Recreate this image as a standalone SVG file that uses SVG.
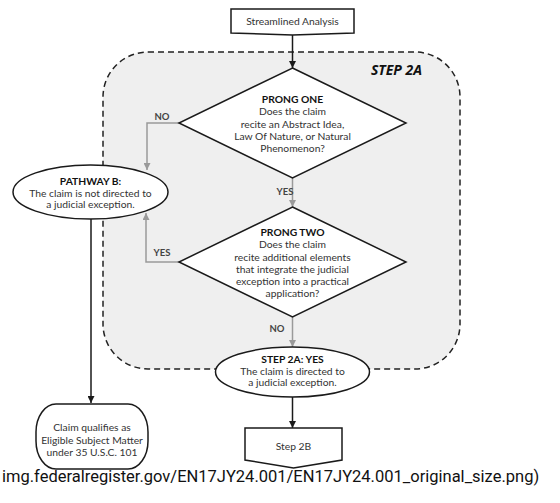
<svg xmlns="http://www.w3.org/2000/svg" width="560" height="503" viewBox="0 0 560 503">
<defs>
<marker id="ab" viewBox="0 0 10 10" refX="10" refY="5" markerWidth="7" markerHeight="7" markerUnits="userSpaceOnUse" orient="auto"><path d="M0,0 L10,5 L0,10 z" fill="#1a1a1a"/></marker>
<marker id="ag" viewBox="0 0 10 10" refX="10" refY="5" markerWidth="7" markerHeight="7" markerUnits="userSpaceOnUse" orient="auto"><path d="M0,0 L10,5 L0,10 z" fill="#9a9a9a"/></marker>
</defs>
<style>
text{font-family:Lato,"Open Sans","Liberation Sans",sans-serif;fill:#333;}
.t{font-size:10.3px;text-anchor:middle;}
.b{font-weight:bold;fill:#111;}
.lbl{font-size:9.5px;font-weight:bold;fill:#444;text-anchor:middle;}
.shape{fill:#fff;stroke:#1a1a1a;stroke-width:1.5;}
.cb{fill:none;stroke:#1a1a1a;stroke-width:1.5;}
.cg{fill:none;stroke:#9a9a9a;stroke-width:1.5;}
</style>
<rect width="560" height="503" fill="#fff"/>
<g id="step2a-region">
<rect x="103" y="52" width="357" height="317" rx="45" ry="45" fill="#efefef" stroke="#222" stroke-width="1.5" stroke-dasharray="6,4"/>
<text x="422" y="75" style="font-family:'Open Sans','Noto Sans',sans-serif;font-size:14px;font-weight:bold;font-style:italic;fill:#111;text-anchor:end">STEP 2A</text>
</g>
<g id="connectors">
<line class="cb" x1="292.5" y1="35" x2="292.5" y2="68" marker-end="url(#ab)"/>
<polyline class="cg" points="179,123 147,123 147,170" marker-end="url(#ag)"/>
<line class="cg" x1="292.5" y1="178" x2="292.5" y2="207" marker-end="url(#ag)"/>
<polyline class="cg" points="179,262 146,262 146,213" marker-end="url(#ag)"/>
<line class="cg" x1="292.5" y1="317" x2="292.5" y2="347" marker-end="url(#ag)"/>
<line class="cb" x1="91" y1="219" x2="91" y2="403" marker-end="url(#ab)"/>
<line class="cb" x1="292.5" y1="397" x2="292.5" y2="428" marker-end="url(#ab)"/>
<text class="lbl" x="162" y="120">NO</text>
<text class="lbl" x="162" y="256">YES</text>
<text class="lbl" x="285" y="195">YES</text>
<text class="lbl" x="277" y="332">NO</text>
</g>
<g id="streamlined">
<path class="shape" d="M231,9 L354,9 L354,33 L292.5,35 L231,33 Z"/>
<text class="t" x="292.5" y="25">Streamlined Analysis</text>
</g>
<g id="prong-one">
<path class="shape" d="M292.5,68 L406,123 L292.5,178 L179,123 Z"/>
<text class="t b" x="292.5" y="103">PRONG ONE</text>
<text class="t" x="292.5" y="115">Does the claim</text>
<text class="t" x="292.5" y="127.5">recite an Abstract Idea,</text>
<text class="t" x="292.5" y="140">Law Of Nature, or Natural</text>
<text class="t" x="292.5" y="152">Phenomenon?</text>
</g>
<g id="pathway-b">
<ellipse class="shape" cx="90.5" cy="192" rx="77.5" ry="27"/>
<text class="t b" x="90.5" y="185">PATHWAY B:</text>
<text class="t" x="90.5" y="196.5">The claim is not directed to</text>
<text class="t" x="90.5" y="208">a judicial exception.</text>
</g>
<g id="prong-two">
<path class="shape" d="M292.5,207 L406,262 L292.5,317 L179,262 Z"/>
<text class="t b" x="292.5" y="236">PRONG TWO</text>
<text class="t" x="292.5" y="248">Does the claim</text>
<text class="t" x="292.5" y="260.5">recite additional elements</text>
<text class="t" x="292.5" y="273">that integrate the judicial</text>
<text class="t" x="292.5" y="285">exception into a practical</text>
<text class="t" x="292.5" y="297">application?</text>
</g>
<g id="step2a-yes">
<ellipse class="shape" cx="292.5" cy="372" rx="77" ry="25"/>
<text class="t b" x="292.5" y="363">STEP 2A: YES</text>
<text class="t" x="292.5" y="374.5">The claim is directed to</text>
<text class="t" x="292.5" y="386">a judicial exception.</text>
</g>
<g id="eligible">
<rect class="shape" x="36" y="404" width="112" height="65" rx="20" ry="28"/>
<text class="t" x="92" y="431">Claim qualifies as</text>
<text class="t" x="92" y="443.5">Eligible Subject Matter</text>
<text class="t" x="92" y="456">under 35 U.S.C. 101</text>
</g>
<g id="step2b">
<path class="shape" d="M245,428 L342,428 L342,460 L293.5,468 L245,460 Z"/>
<text class="t" x="293.5" y="450">Step 2B</text>
</g>
<text x="2" y="482" style="font-family:Roboto,'Noto Sans',sans-serif;font-size:16.5px;fill:#111">img.federalregister.gov/EN17JY24.001/EN17JY24.001_original_size.png)</text>
</svg>
